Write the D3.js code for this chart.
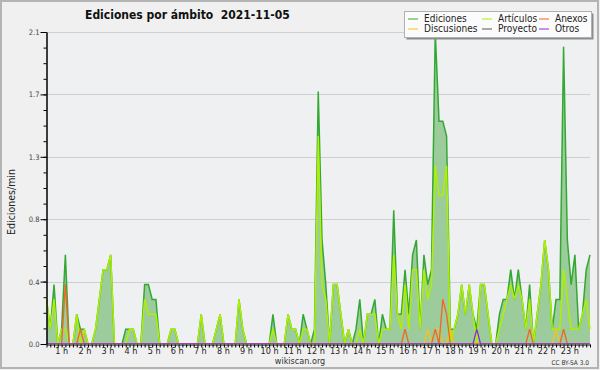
<!DOCTYPE html>
<html><head><meta charset="utf-8">
<script src="https://cdn.jsdelivr.net/npm/d3@7"></script>
<style>
html,body{margin:0;padding:0;background:#f0f0f0;}
svg{display:block;font-family:"DejaVu Sans Condensed","DejaVu Sans",sans-serif;font-stretch:condensed;}
</style></head><body>
<svg id="c" width="600" height="370"></svg>
<script>
// ---- data (10-minute bins, edits per minute) ----
const chartTitle = "Ediciones por ámbito  2021-11-05";
const yTitle = "Ediciones/min";
const hourLabels = ["1 h","2 h","3 h","4 h","5 h","6 h","7 h","8 h","9 h","10 h","11 h","12 h",
  "13 h","14 h","15 h","16 h","17 h","18 h","19 h","20 h","21 h","22 h","23 h"];
const yTicks = [0.0, 0.42, 0.84, 1.26, 1.68, 2.1];
const seriesNames = ["Ediciones","Artículos","Anexos","Discusiones","Proyecto","Otros"];

const ediciones = [
  .3,.1,.4,0,.1,.6,   0,0,.2,.1,.1,0,   0,.1,.3,.5,.5,.6,   0,0,0,.1,.1,.1,
  0,0,.4,.4,.3,.3,    0,0,0,.1,.1,0,    0,0,0,0,0,.2,       0,0,0,.1,.2,0,
  0,0,0,.3,.1,0,      0,0,0,0,0,0,      .2,0,0,0,.2,.1,     .1,0,.2,.1,0,.1,
  1.7,.7,.4,0,.4,.4,  .2,0,.1,0,.1,.3,  0,.2,.2,.3,0,.2,    .1,.1,.9,.2,.2,.5,
  .2,.6,.7,.1,.6,.4,  .5,2.1,1.5,1.5,1.4,.1, .1,.2,.4,.2,.4,.2, .1,.4,.4,.2,0,0,
  .2,.3,.3,.5,.3,.5,  .3,.1,.4,0,.2,.4, .7,.5,.1,.3,.3,2.0,  .7,.4,.6,.1,.2,.5,
  .6];
const articulos = [
  .3,.1,.3,0,.1,.1,   0,0,.2,0,.1,0,    0,.1,.3,.5,.5,.6,   0,0,0,0,.1,.1,
  0,0,.3,.2,.2,.2,    0,0,0,.1,.1,0,    0,0,0,0,0,.2,       0,0,0,.1,.2,0,
  0,0,0,.3,.1,0,      0,0,0,0,0,0,      .1,0,0,0,.2,.1,     .1,0,.1,.1,0,0,
  1.4,.4,.3,0,.4,.4,  .2,0,.1,0,0,.1,   0,.2,.2,.2,0,.1,    .1,.1,.6,.2,.1,.4,
  .1,.5,.5,.1,.5,.3,  .4,1.2,1.0,1.0,1.2,0, .1,.2,.4,.2,.4,.2, 0,.4,.4,.2,0,0,
  .1,.2,.3,.4,.3,.4,  .3,.1,.3,0,.2,.4, .7,.5,.1,.1,.1,.5,   .3,.1,.1,.1,.2,.3,
  .1];
const anexos = [
  0,0,0,0,0,.4,  0,0,0,.1,0,0,  0,0,0,0,0,0,  0,0,0,0,0,0,
  0,0,0,0,0,0,   0,0,0,0,0,0,   0,0,0,0,0,0,  0,0,0,0,0,0,
  0,0,0,0,0,0,   0,0,0,0,0,0,   0,0,0,0,0,0,  0,0,0,0,0,0,
  0,0,0,0,0,0,   0,0,0,0,0,0,   0,0,0,0,0,0,  0,0,0,0,0,.1,
  0,0,0,0,0,0,   0,.1,0,.3,.2,0, 0,0,0,0,0,0, 0,0,0,0,0,0,
  0,0,0,0,0,0,   0,0,.1,0,0,0,  0,0,0,0,0,.1, 0,0,0,0,0,0,
  0];
const discusiones = [
  0,0,0,0,0,0,   0,0,0,0,0,0,   0,0,0,0,0,0,  0,0,0,0,0,0,
  0,0,0,0,0,0,   0,0,0,0,0,0,   0,0,0,0,0,0,  0,0,0,0,0,0,
  0,0,0,0,0,0,   0,0,0,0,0,0,   0,0,0,0,0,0,  0,0,0,0,0,0,
  0,0,0,0,0,0,   0,0,0,0,0,0,   0,0,0,0,0,0,  0,0,0,0,0,0,
  0,0,0,0,0,.1,  0,.1,.1,0,0,.1, 0,0,0,0,0,0, 0,0,0,0,0,0,
  0,0,0,0,0,0,   0,0,0,0,0,0,   0,0,0,.1,0,0, 0,0,0,0,0,0,
  0];
const proyecto = [
  0,0,0,0,0,0,   0,0,0,0,0,0,   0,0,0,0,0,0,  0,0,0,0,0,0,
  0,0,0,0,0,0,   0,0,0,0,0,0,   0,0,0,0,0,0,  0,0,0,0,0,0,
  0,0,0,0,0,0,   0,0,0,0,0,0,   0,0,0,0,0,0,  0,0,0,0,0,0,
  0,0,0,0,0,0,   0,0,0,0,0,0,   0,0,0,0,0,0,  0,0,0,0,0,0,
  0,0,0,0,0,0,   0,0,0,0,0,0,   0,0,0,0,0,0,  0,0,0,0,0,0,
  0,0,0,0,0,0,   0,0,0,0,0,0,   0,0,0,0,0,0,  0,0,0,0,0,0,
  0];
const otros = [
  0,0,0,0,0,0,   0,0,0,0,0,0,   0,0,0,0,0,0,  0,0,0,0,0,0,
  0,0,0,0,0,0,   0,0,0,0,0,0,   0,0,0,0,0,0,  0,0,0,0,0,0,
  0,0,0,0,0,0,   0,0,0,0,0,0,   0,0,0,0,0,0,  0,0,0,0,0,0,
  0,0,0,0,0,0,   0,0,0,0,0,0,   0,0,0,0,0,0,  0,0,0,0,0,0,
  0,0,0,0,0,0,   0,0,0,0,0,0,   0,0,0,0,0,0,  .1,0,0,0,0,0,
  0,0,0,0,0,0,   0,0,0,0,0,0,   0,0,0,0,0,0,  0,0,0,0,0,0,
  0];

const colors = {
  Ediciones:"#33a833", Artículos:"#aef000", Anexos:"#f26522",
  Discusiones:"#f7c31c", Proyecto:"#555555", Otros:"#8a2be2"
};
const seriesData = {
  Ediciones: ediciones, Artículos: articulos, Anexos: anexos,
  Discusiones: discusiones, Proyecto: proyecto, Otros: otros
};

// ---- layout ----
const svg = d3.select("#c");
const x = d3.scaleLinear().domain([0, 144]).range([46.5, 590]);
const y = d3.scaleLinear().domain([0, 2.1]).range([344, 32]);

svg.append("rect").attr("x",0).attr("y",0).attr("width",600).attr("height",370).attr("fill","#f0f0f0");
svg.append("rect").attr("x",1).attr("y",1).attr("width",597).attr("height",367)
  .attr("fill","none").attr("stroke","#b4b4b4").attr("stroke-width",2);
svg.append("rect").attr("x",x(0)).attr("y",y(2.1)).attr("width",x(144)-x(0)).attr("height",y(0)-y(2.1))
  .attr("fill","#eef0f1");

// grid
svg.append("g").selectAll("line").data(yTicks.slice(1)).join("line")
  .attr("x1", x(0)).attr("x2", x(144))
  .attr("y1", d => Math.round(y(d))+0.5).attr("y2", d => Math.round(y(d))+0.5)
  .attr("stroke","#cfcfcf").attr("stroke-width",1);

svg.append("defs").append("clipPath").attr("id","clip")
  .append("rect").attr("x",x(0)).attr("y",y(2.1)-2).attr("width",x(144)-x(0)+1).attr("height",y(0)-y(2.1)+2);
const plot = svg.append("g").attr("clip-path","url(#clip)");

const idx = d3.range(ediciones.length);
const area = d3.area().x(i => x(i)).y0(y(0)).y1(i => y(ediciones[i]));
plot.append("path").datum(idx).attr("d", area).attr("fill","#9ccb9c");

const drawOrder = ["Ediciones","Artículos","Proyecto","Discusiones","Anexos","Otros"];
drawOrder.forEach(name => {
  const vals = seriesData[name];
  const line = d3.line().x(i => x(i)).y(i => y(vals[i]));
  plot.append("path").datum(idx).attr("d", line)
    .attr("fill","none").attr("stroke", colors[name])
    .attr("stroke-width", name === "Ediciones" || name === "Artículos" ? 1.5 : 1.3)
    .attr("stroke-linejoin","miter");
});

// y axis
const yMinor = d3.range(21).map(k => 2.1*k/20);
const gyMinor = svg.append("g").attr("transform","translate(46.5,0)")
  .call(d3.axisLeft(y).tickValues(yMinor).tickSize(3).tickSizeOuter(0).tickFormat(""));
const gy = svg.append("g").attr("transform","translate(46.5,0)")
  .call(d3.axisLeft(y).tickValues(yTicks).tickSize(6).tickSizeOuter(0).tickFormat(d3.format(".1f")));
[gy, gyMinor].forEach(g => { g.selectAll("line,path").attr("stroke","#000"); });
gy.selectAll("text").attr("font-size","7.5px").attr("fill","#444").attr("x",-7)
  .attr("font-family",'"DejaVu Sans Condensed","DejaVu Sans",sans-serif');

// x axis
const gx = svg.append("g").attr("transform","translate(0,344.5)")
  .call(d3.axisBottom(x).tickValues(d3.range(0,145)).tickSize(3).tickSizeOuter(0).tickFormat(""));
gx.selectAll("line,path").attr("stroke","#000");

const hourPos = d3.scaleLinear().domain([1,23]).range([x(6)-7.4, x(138)+2.5]);
svg.append("g").selectAll("text").data(hourLabels).join("text")
  .attr("x", (d,i) => hourPos(i+1)).attr("y", 353.5)
  .attr("text-anchor","middle").attr("font-size","9px").attr("fill","#222")
  .text(d => d);

// titles
svg.append("text").attr("x",85).attr("y",18.5).attr("font-size","12px").attr("font-weight","bold")
  .attr("fill","#111").style("white-space","pre").text(chartTitle);
svg.append("text").attr("transform","translate(14.5,202) rotate(-90)").attr("text-anchor","middle")
  .attr("font-size","10.5px").attr("fill","#222").text(yTitle);
svg.append("text").attr("x",300).attr("y",363.5).attr("text-anchor","middle")
  .attr("font-size","9px").attr("fill","#333").text("wikiscan.org");
svg.append("text").attr("x",589).attr("y",365).attr("text-anchor","end")
  .attr("font-size","6.5px").attr("fill","#333").text("CC BY-SA 3.0");

// legend
const lg = svg.append("g");
lg.append("rect").attr("x",406.5).attr("y",13.5).attr("width",187).attr("height",26).attr("fill","#8c8c8c");
lg.append("rect").attr("x",404.5).attr("y",11.5).attr("width",187).attr("height",26)
  .attr("fill","#fbfbfb").attr("stroke","#b0b0b0");
const legCols = [408, 482, 539];
const legRows = [19, 29];
const legendOrder = [["Ediciones",0,0],["Artículos",1,0],["Anexos",2,0],
                     ["Discusiones",0,1],["Proyecto",1,1],["Otros",2,1]];
legendOrder.forEach(([name,c,r]) => {
  lg.append("line").attr("x1",legCols[c]).attr("x2",legCols[c]+10)
    .attr("y1",legRows[r]).attr("y2",legRows[r]).attr("stroke",colors[name]).attr("stroke-width",1);
  lg.append("text").attr("x",legCols[c]+16).attr("y",legRows[r]+3.3)
    .attr("font-size","10px").attr("fill","#222").text(name);
});
</script>
</body></html>
